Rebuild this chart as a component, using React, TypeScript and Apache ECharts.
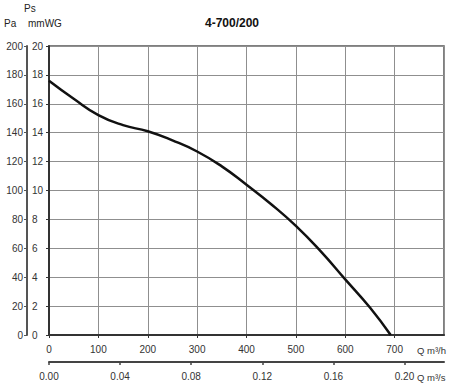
import React, { useEffect, useRef } from "react";
import * as echarts from "echarts";

// Flow (m³/h) and static pressure (mmWG)
const flowM3h = [0, 50, 100, 150, 200, 250, 300, 350, 400, 450, 500, 550, 600, 650, 692];
const pressureMmWG = [17.6, 16.35, 15.22, 14.52, 14.1, 13.47, 12.7, 11.67, 10.4, 9.05, 7.55, 5.8, 3.85, 1.9, 0];

const flowTicksM3s = [0, 0.04, 0.08, 0.12, 0.16, 0.2];
const titleText = "4-700/200";

const FONT = "'Liberation Sans', Arial, sans-serif";

export default function App() {
  const ref = useRef<HTMLDivElement>(null);

  useEffect(() => {
    if (!ref.current) return;
    const chart = echarts.init(ref.current, null, { renderer: "svg" });
    const data = flowM3h.map((q, i) => [q, pressureMmWG[i]]);
    const labelStyle = { fontFamily: FONT, fontSize: 10, color: "#333" };

    chart.setOption({
      animation: false,
      backgroundColor: "#fff",
      grid: {
        left: 49,
        right: 6,
        top: 46,
        bottom: 50,
        show: true,
        borderColor: "#555",
        borderWidth: 1.5,
        backgroundColor: "transparent",
      },
      xAxis: [
        {
          type: "value",
          position: "bottom",
          min: 0,
          max: 800,
          interval: 100,
          axisLine: { show: true, onZero: false, lineStyle: { color: "#333", width: 2 } },
          axisTick: { show: true, length: 3, lineStyle: { color: "#333" } },
          axisLabel: {
            ...labelStyle,
            margin: 9,
            showMaxLabel: false,
            formatter: (v: number) => (v > 750 ? "" : String(v)),
          },
          splitLine: { show: true, lineStyle: { color: "#8f8f8f", width: 1 } },
        },
        {
          type: "value",
          position: "bottom",
          offset: 27,
          min: 0,
          max: 800 / 3600,
          interval: 0.04,
          axisLine: { show: true, onZero: false, lineStyle: { color: "#444", width: 2 } },
          axisTick: { show: true, length: 3, customValues: flowTicksM3s, lineStyle: { color: "#444", width: 1.5 } },
          axisLabel: {
            ...labelStyle,
            margin: 9,
            customValues: flowTicksM3s,
            formatter: (v: number) => (v > 0.205 ? "" : v.toFixed(2)),
          },
          splitLine: { show: false },
        },
      ],
      yAxis: [
        {
          type: "value",
          position: "left",
          min: 0,
          max: 20,
          interval: 2,
          axisLine: { show: true, onZero: false, lineStyle: { color: "#333", width: 2 } },
          axisTick: { show: true, length: 3, lineStyle: { color: "#333" } },
          axisLabel: { show: false },
          splitLine: { show: true, lineStyle: { color: "#8f8f8f", width: 1 } },
        },
        {
          type: "value",
          position: "left",
          offset: 22,
          min: 0,
          max: 200,
          interval: 20,
          axisLine: { show: true, onZero: false, lineStyle: { color: "#555", width: 2 } },
          axisTick: { show: true, length: 3, lineStyle: { color: "#555" } },
          axisLabel: { ...labelStyle, margin: 4 },
          splitLine: { show: false },
        },
        {
          type: "value",
          position: "left",
          offset: 22,
          min: 0,
          max: 20,
          interval: 2,
          axisLine: { show: false, onZero: false },
          axisTick: { show: false },
          axisLabel: { ...labelStyle, inside: true, margin: 5 },
          splitLine: { show: false },
        },
      ],
      graphic: [
        {
          type: "text",
          x: 232,
          y: 23,
          style: {
            text: titleText,
            font: `bold 12px ${FONT}`,
            fill: "#111",
            textAlign: "center",
            textVerticalAlign: "middle",
          },
        },
        {
          type: "text",
          x: 24,
          y: 8,
          style: { text: "Ps", font: `10px ${FONT}`, fill: "#222", textVerticalAlign: "middle" },
        },
        {
          type: "text",
          x: 4,
          y: 23,
          style: { text: "Pa", font: `10px ${FONT}`, fill: "#222", textVerticalAlign: "middle" },
        },
        {
          type: "text",
          x: 28,
          y: 23,
          style: { text: "mmWG", font: `10px ${FONT}`, fill: "#222", textVerticalAlign: "middle" },
        },
        {
          type: "text",
          x: 417,
          y: 350,
          style: { text: "Q m³/h", font: `9.5px ${FONT}`, fill: "#333", textVerticalAlign: "middle" },
        },
        {
          type: "text",
          x: 417,
          y: 377,
          style: { text: "Q m³/s", font: `9.5px ${FONT}`, fill: "#333", textVerticalAlign: "middle" },
        },
      ],
      series: [
        {
          type: "line",
          xAxisIndex: 0,
          yAxisIndex: 0,
          data,
          smooth: 0.5,
          showSymbol: false,
          lineStyle: { color: "#111", width: 2.5 },
        },
      ],
    });

    return () => chart.dispose();
  }, []);

  return (
    <div
      ref={ref}
      style={{ position: "fixed", left: 0, top: 0, width: 450, height: 385 }}
    />
  );
}
